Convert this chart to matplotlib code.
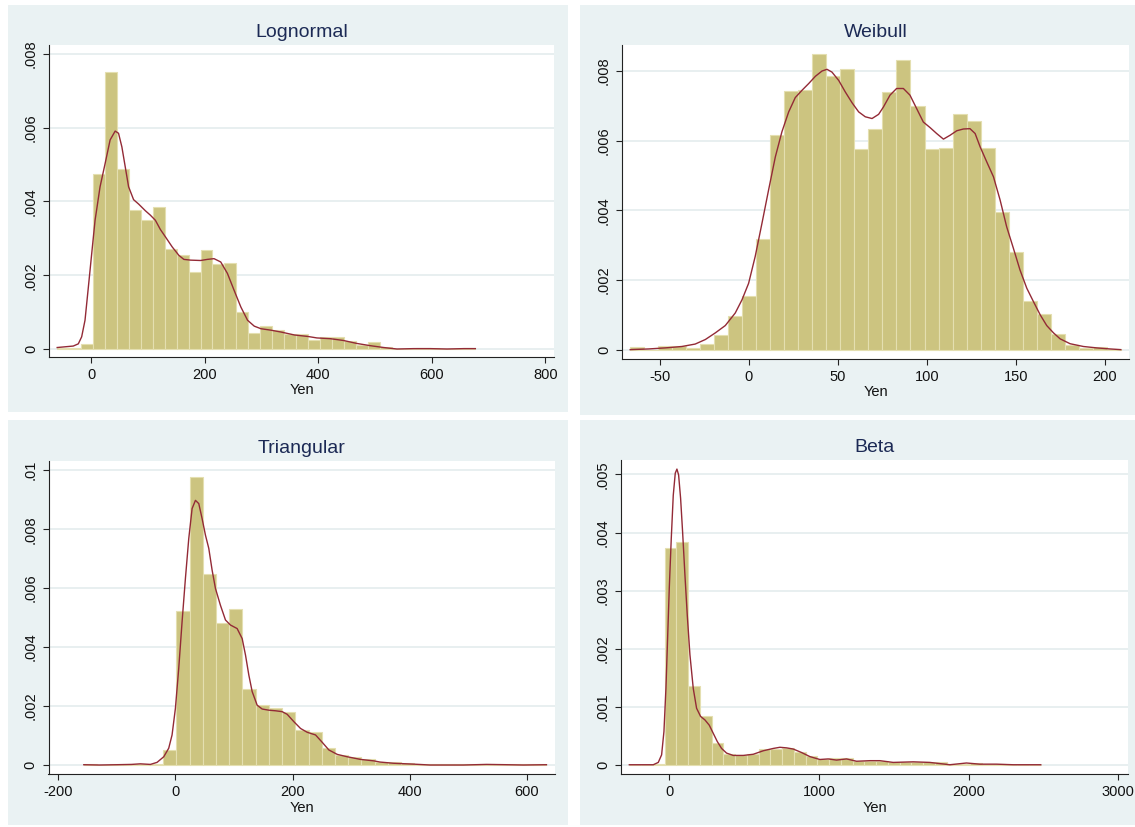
import numpy as np
import matplotlib.pyplot as plt
from matplotlib.patches import Rectangle
from matplotlib.ticker import FuncFormatter

# ---- data ----------------------------------------------------------------
# histogram: first bin edge, bin width, density of each bin (35 bins)
logn_start, logn_width = -59.6, 21.03
logn_heights = [0.00004, 0.00004, 0.000127, 0.004733, 0.007502, 0.004878, 0.003765,
                0.003511, 0.003846, 0.002706, 0.002561, 0.002081, 0.002679, 0.002317,
                0.002326, 0.000995, 0.000434, 0.000633, 0.000525, 0.000398, 0.000400,
                0.000245, 0.000318, 0.000318, 0.000227, 0.000118, 0.000191, 0.00005,
                0.0, 0.0, 0.00003, 0.00003, 0.0, 0.0, 0.00003]
logn_kde_x = [-59.6, -31.3, -22.4, -16.5, -10.6, -4.7, 1.2, 7.1, 15.9, 24.8, 33.6, 42.5,
              48.4, 54.3, 60.2, 66.1, 74.9, 83.8, 95.6, 104.4, 113.3, 122.1, 131.0,
              142.8, 154.6, 163.4, 175.2, 192.9, 204.7, 216.5, 228.3, 240.1, 251.9,
              263.7, 275.5, 287.3, 299.1, 316.8, 334.5, 358.1, 381.7, 397.6, 421.1,
              444.6, 468.1, 491.6, 515.1, 538.6, 568.0, 597.4, 626.7, 656.1, 676.5]
logn_kde_y = [0.00004, 0.00008, 0.00014, 0.00033, 0.00078, 0.00168, 0.00259, 0.00349,
              0.0044, 0.00503, 0.00567, 0.00591, 0.00585, 0.00548, 0.00494, 0.0044,
              0.00405, 0.00393, 0.00375, 0.00363, 0.00349, 0.00324, 0.00304, 0.00277,
              0.00254, 0.00243, 0.00241, 0.0024, 0.00243, 0.00245, 0.00236, 0.00205,
              0.00159, 0.00114, 0.00078, 0.00062, 0.00055, 0.00051, 0.00046, 0.00038,
              0.00034, 0.0003, 0.00028, 0.00023, 0.00015, 0.00009, 0.00004, 0.0,
              0.00001, 0.00001, 0.0, 0.00001, 0.00001]

weib_start, weib_width = -66.5, 7.87
weib_heights = [0.000086, 0.0, 0.000124, 0.000124, 0.000057, 0.000181, 0.000429,
                0.000981, 0.001552, 0.003181, 0.006162, 0.00741, 0.007457, 0.008476,
                0.007838, 0.008048, 0.005752, 0.006324, 0.00739, 0.008314, 0.0070,
                0.005752, 0.00579, 0.006771, 0.006552, 0.00579, 0.003962, 0.0028,
                0.0014, 0.001029, 0.000457, 0.000152, 0.000057, 0.000086, 0.00003]
weib_kde_x = [-66.5, -56.2, -46.8, -37.5, -30.0, -24.3, -18.7, -13.1, -7.5, -3.7, 0.0,
              3.7, 7.5, 11.2, 15.0, 18.7, 22.5, 26.2, 30.0, 33.7, 37.5, 41.2, 44.0,
              46.8, 50.6, 54.3, 58.1, 61.8, 65.5, 69.3, 73.0, 75.7, 79.4, 83.1, 86.9,
              90.6, 94.4, 98.1, 101.9, 105.6, 109.4, 113.1, 116.9, 120.6, 124.3, 127.2,
              130.0, 133.7, 137.5, 141.2, 144.9, 148.7, 152.4, 156.2, 159.9, 163.7,
              167.4, 171.2, 174.9, 180.5, 188.0, 195.5, 203.0, 209.0]
weib_kde_y = [0.00001, 0.00003, 0.00006, 0.0001, 0.00017, 0.0003, 0.00049, 0.0007,
              0.00106, 0.00144, 0.00191, 0.00268, 0.00363, 0.00458, 0.00553, 0.00625,
              0.00682, 0.00723, 0.00744, 0.00763, 0.00784, 0.00799, 0.00804, 0.00796,
              0.00772, 0.00739, 0.00708, 0.00682, 0.00668, 0.00663, 0.00675, 0.00696,
              0.0073, 0.00749, 0.00749, 0.0073, 0.00691, 0.00653, 0.00637, 0.0062,
              0.00604, 0.00615, 0.00628, 0.00633, 0.00634, 0.0062, 0.00582, 0.00539,
              0.00496, 0.0043, 0.00353, 0.00291, 0.00229, 0.00177, 0.00139, 0.00101,
              0.0007, 0.00049, 0.00032, 0.00018, 0.0001, 0.00006, 0.00003, 0.00001]

tri_start, tri_width = -156.4, 22.57
tri_heights = [0.00002, 0.0, 0.00002, 0.00002, 0.00004, 0.00002, 0.00051, 0.00522,
               0.00977, 0.00647, 0.00482, 0.00528, 0.00258, 0.00203, 0.00192, 0.00181,
               0.00118, 0.00112, 0.00057, 0.00034, 0.00027, 0.0002, 0.00011, 0.00009,
               0.00008, 0.00005, 0.00002, 0.00002, 0.00002, 0.00002, 0.00003, 0.00002,
               0.00002, 0.00003, 0.00002]
tri_kde_x = [-156.4, -130.0, -100.0, -75.0, -60.0, -42.7, -31.3, -19.9, -11.4, -5.7, 0.0,
             5.7, 11.4, 17.1, 22.8, 28.5, 34.2, 39.9, 45.6, 51.3, 57.0, 62.7, 68.4, 76.9,
             85.5, 94.0, 105.4, 114.0, 119.7, 125.4, 131.1, 139.6, 148.1, 159.5, 170.9,
             182.3, 190.9, 202.3, 213.7, 225.1, 239.3, 250.7, 262.1, 276.4, 293.4, 316.2,
             339.0, 349.4, 372.2, 406.3, 434.8, 491.7, 531.5, 565.7, 594.2, 633.6]
tri_kde_y = [0.00001, 0.0, 0.00001, 0.00002, 0.00004, 0.00002, 0.00009, 0.00028, 0.00057,
             0.00102, 0.00192, 0.00328, 0.00486, 0.00633, 0.00768, 0.0087, 0.00898,
             0.00887, 0.00836, 0.0078, 0.00735, 0.00661, 0.00599, 0.00542, 0.00492,
             0.00475, 0.00463, 0.00429, 0.00373, 0.00305, 0.00249, 0.00203, 0.0019,
             0.00186, 0.00184, 0.00181, 0.00172, 0.00147, 0.00124, 0.00111, 0.00102,
             0.00077, 0.00051, 0.00036, 0.00028, 0.00019, 0.00014, 0.0001, 0.00006,
             0.00003, 0.0, 0.0, 0.00002, 0.00001, 0.0, 0.00001]

beta_start, beta_width = -267.0, 78.57
beta_heights = [0.0, 0.00001, 0.00003, 0.003728, 0.003837, 0.001363, 0.000842, 0.000378,
                0.000195, 0.000183, 0.000189, 0.000286, 0.000286, 0.000298, 0.000235,
                0.00016, 0.000115, 0.000126, 0.00012, 0.000069, 0.00008, 0.00008,
                0.00005, 0.00005, 0.00006, 0.00006, 0.00005, 0.00002, 0.00003, 0.00004,
                0.00003, 0.00002, 0.00001, 0.00001, 0.00001]
beta_kde_x = [-267.0, -174.0, -107.0, -73.5, -51.2, -35.6, -22.3, -11.1, 0.0, 13.4, 26.7,
              40.1, 51.2, 62.4, 75.7, 89.1, 104.7, 120.3, 138.1, 160.4, 182.6, 209.4,
              238.3, 267.3, 294.0, 320.7, 349.7, 383.1, 427.6, 494.4, 561.2, 628.0,
              694.9, 739.4, 784.0, 828.5, 884.2, 939.9, 1006.7, 1062.4, 1118.0, 1184.9,
              1251.7, 1340.8, 1407.5, 1496.6, 1630.2, 1741.5, 1875.1, 1986.5, 2075.6,
              2186.9, 2298.3, 2483.0]
beta_kde_y = [0.00001, 0.00001, 0.00001, 0.00005, 0.00018, 0.00058, 0.00132, 0.00218,
              0.00304, 0.0039, 0.00464, 0.00502, 0.00509, 0.00499, 0.00459, 0.00401,
              0.00327, 0.00258, 0.0019, 0.00132, 0.00098, 0.00084, 0.00078, 0.00069,
              0.00055, 0.00041, 0.00029, 0.00021, 0.00017, 0.00017, 0.00019, 0.00025,
              0.00029, 0.00031, 0.0003, 0.00028, 0.00022, 0.00015, 0.0001, 0.00011,
              0.00009, 0.00011, 0.00007, 0.00008, 0.00008, 0.00005, 0.00006, 0.00005,
              0.00001, 0.00004, 0.00002, 0.00002, 0.00001, 0.00001]

titles = ["Lognormal", "Weibull", "Triangular", "Beta"]
xticks = [[0, 200, 400, 600, 800], [-50, 0, 50, 100, 150, 200],
          [-200, 0, 200, 400, 600], [0, 1000, 2000, 3000]]
yticks = [[0, 0.002, 0.004, 0.006, 0.008], [0, 0.002, 0.004, 0.006, 0.008],
          [0, 0.002, 0.004, 0.006, 0.008, 0.01], [0, 0.001, 0.002, 0.003, 0.004, 0.005]]

# ---- layout (pixels of the 1135x827 picture) -----------------------------
W, H = 1135, 827
panel_px = [(8, 5, 568, 412), (580, 5, 1135, 415), (8, 420, 568, 825), (580, 420, 1135, 825)]
axes_px = [(49, 45, 554, 357), (622, 45, 1129, 359), (48.5, 461, 555, 774), (621, 460, 1128, 774)]
xlims = [(-74, 815), (-71.1, 213.6), (-216.7, 648.2), (-322.6, 3066)]
ylims = [(-0.000217, 0.008244), (-0.000258, 0.008736), (-0.000305, 0.010315), (-0.000149, 0.005246)]

BG = '#EAF2F3'
BAR = '#CCC480'
BAR_EDGE = '#E4DFB0'
LINE = '#932A36'
TITLE = '#1C2A55'

plt.rcParams['font.family'] = ['Liberation Sans', 'DejaVu Sans']
plt.rcParams['axes.unicode_minus'] = False

fig = plt.figure(figsize=(W / 100, H / 100), dpi=100)
fig.patch.set_facecolor('white')


def fig_rect(x0, y0, x1, y1):
    return [x0 / W, 1 - y1 / H, (x1 - x0) / W, (y1 - y0) / H]


for (x0, y0, x1, y1) in panel_px:
    l, b, w, h = fig_rect(x0, y0, x1, y1)
    fig.patches.append(Rectangle((l, b), w, h, transform=fig.transFigure,
                                 facecolor=BG, edgecolor='none', zorder=-5))

series = [(logn_start, logn_width, logn_heights, logn_kde_x, logn_kde_y),
          (weib_start, weib_width, weib_heights, weib_kde_x, weib_kde_y),
          (tri_start, tri_width, tri_heights, tri_kde_x, tri_kde_y),
          (beta_start, beta_width, beta_heights, beta_kde_x, beta_kde_y)]

ylab_fmt = FuncFormatter(lambda v, p: '0' if v == 0 else f'{v:g}'.replace('0.', '.', 1))

for i, (start, width, heights, kx, ky) in enumerate(series):
    ax = fig.add_axes(fig_rect(*axes_px[i]))
    ax.set_zorder(1)
    ax.set_facecolor('white')
    lefts = start + width * np.arange(len(heights))
    ax.bar(lefts, heights, width=width, align='edge', color=BAR,
           edgecolor=BAR_EDGE, linewidth=0.8, zorder=2)
    ax.plot(kx, ky, color=LINE, linewidth=1.0, zorder=3)

    ax.set_xlim(*xlims[i])
    ax.set_ylim(*ylims[i])
    ax.set_xticks(xticks[i])
    ax.set_yticks(yticks[i])
    ax.yaxis.set_major_formatter(ylab_fmt)
    ax.yaxis.grid(True, color='#E4ECEE', linewidth=1.2, zorder=1)
    ax.set_axisbelow(True)

    for s in ['top', 'right']:
        ax.spines[s].set_visible(False)
    for s in ['left', 'bottom']:
        ax.spines[s].set_color('#222222')
        ax.spines[s].set_linewidth(0.8)

    ax.tick_params(direction='out', length=4, width=0.8, color='#222222',
                   labelsize=10.5, labelcolor='#111111', pad=4)
    ax.tick_params(axis='y', labelrotation=90)
    for lab in ax.get_yticklabels():
        lab.set_va('center')

    ax.set_xlabel('Yen', fontsize=10.5, labelpad=1, color='#111111')
    ax.set_title(titles[i], fontsize=14, color=TITLE, pad=6)

fig.savefig('out.png', dpi=100)
